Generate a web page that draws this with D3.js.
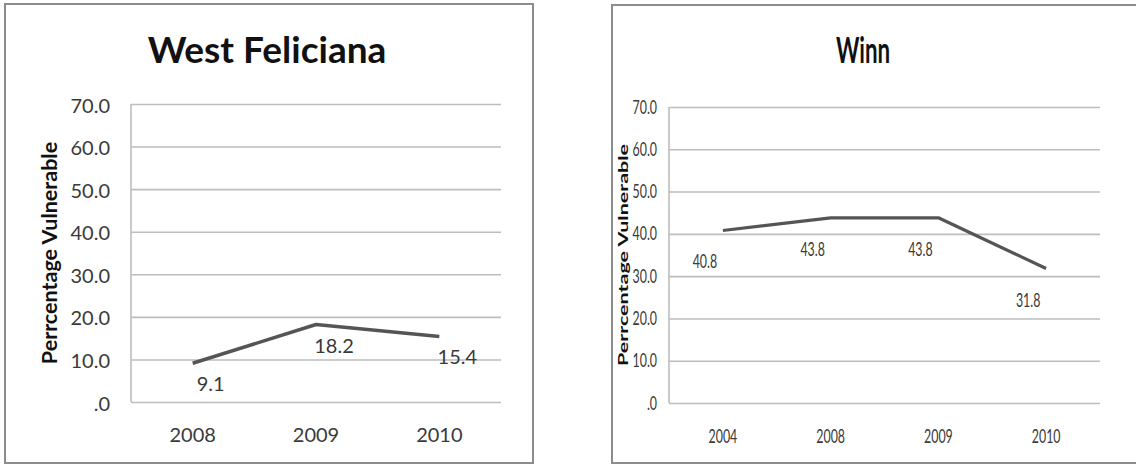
<!DOCTYPE html>
<html>
<head>
<meta charset="utf-8">
<script src="https://cdn.jsdelivr.net/npm/d3@7"></script>
<style>
  html, body { margin: 0; padding: 0; background: #fff; }
  svg { display: block; }
  text { font-family: Lato, "Open Sans", sans-serif; fill: #333; }
</style>
</head>
<body>
<svg id="chart" width="1136" height="465"></svg>
<script>
// ---- data ----
const westTitle = "West Feliciana";
const westYears = ["2008", "2009", "2010"];
const westValues = [9.1, 18.2, 15.4];

const winnTitle = "Winn";
const winnYears = ["2004", "2008", "2009", "2010"];
const winnValues = [40.8, 43.8, 43.8, 31.8];

const yTicks = [0, 10, 20, 30, 40, 50, 60, 70];
const yAxisTitle = "Perrcentage Vulnerable";

const svg = d3.select("#chart");

function drawChart(cfg) {
  const g = svg.append("g");
  const sx = cfg.squeeze; // horizontal glyph compression

  // frame
  g.append("rect")
    .attr("x", cfg.box[0]).attr("y", cfg.box[1])
    .attr("width", cfg.box[2]).attr("height", cfg.box[3])
    .attr("fill", "#fff").attr("stroke", "#8c8c8c").attr("stroke-width", 2);

  const x = d3.scaleBand().domain(cfg.years).range([cfg.left, cfg.right]).padding(0);
  const y = d3.scaleLinear().domain([0, 70]).range([cfg.bottom, cfg.top]);

  // gridlines + y tick labels
  const yAxis = d3.axisLeft(y).tickValues(yTicks)
    .tickSize(-(cfg.right - cfg.left)).tickPadding(0)
    .tickFormat(d => d === 0 ? ".0" : d.toFixed(1));
  const ya = g.append("g").attr("transform", `translate(${cfg.left},0)`).call(yAxis);
  ya.select(".domain").remove();
  ya.selectAll(".tick line").attr("stroke", "#bdbdbd").attr("stroke-width", 1.6);
  ya.selectAll(".tick text")
    .attr("x", null).attr("dy", null)
    .attr("transform", `translate(${-cfg.yLabGap},${cfg.yLabDy}) scale(${sx},1)`)
    .attr("text-anchor", "end")
    .style("font-size", cfg.tickSize + "px").style("fill", "#3a3a3a");

  // vertical axis line
  g.append("line")
    .attr("x1", cfg.left).attr("x2", cfg.left)
    .attr("y1", y(70)).attr("y2", y(0))
    .attr("stroke", "#bdbdbd").attr("stroke-width", 1.6);

  // x axis labels
  const xAxis = d3.axisBottom(x).tickSize(0).tickPadding(0);
  const xa = g.append("g").attr("transform", `translate(0,${cfg.bottom})`).call(xAxis);
  xa.select(".domain").remove();
  xa.selectAll(".tick text")
    .attr("y", null).attr("dy", null)
    .attr("transform", `translate(0,${cfg.xLabDy}) scale(${sx},1)`)
    .style("font-size", cfg.tickSize + "px").style("fill", "#3a3a3a");

  // title
  g.append("text")
    .attr("transform", `translate(${cfg.titleX},${cfg.titleY}) scale(${sx},1)`)
    .attr("text-anchor", "middle")
    .style("font-size", cfg.titleSize + "px").style("font-weight", "bold").style("fill", "#111")
    .text(cfg.title);

  // y axis title
  g.append("text")
    .attr("transform", `translate(${cfg.yTitleX},${(cfg.top + cfg.bottom) / 2}) scale(${sx},1) rotate(-90)`)
    .attr("text-anchor", "middle")
    .style("font-size", cfg.yTitleSize + "px").style("font-weight", "bold").style("fill", "#111")
    .text(yAxisTitle);

  // line
  const pts = cfg.years.map((yr, i) => ({ yr, v: cfg.values[i] }));
  const line = d3.line().x(d => x(d.yr) + x.bandwidth() / 2).y(d => y(d.v));
  g.append("path").datum(pts)
    .attr("d", line).attr("fill", "none")
    .attr("stroke", "#555").attr("stroke-width", cfg.lineW)
    .attr("stroke-linejoin", "round");

  // data labels
  g.selectAll(".dl").data(pts).enter().append("text")
    .attr("class", "dl")
    .attr("transform", d => `translate(${x(d.yr) + x.bandwidth() / 2 + cfg.lblDx},${y(d.v) + cfg.lblDy}) scale(${sx},1)`)
    .attr("text-anchor", "middle")
    .style("font-size", cfg.tickSize + "px").style("fill", "#3a3a3a")
    .text(d => d.v.toFixed(1));
}

drawChart({
  title: westTitle, years: westYears, values: westValues,
  box: [5, 4, 528, 459],
  left: 131, right: 501, top: 104, bottom: 402,
  squeeze: 1, tickSize: 20, titleSize: 37, yTitleSize: 21.5,
  yLabGap: 21, yLabDy: 8, xLabDy: 40,
  titleX: 267, titleY: 63, yTitleX: 57,
  lineW: 3.5, lblDx: 18, lblDy: 28
});

drawChart({
  title: winnTitle, years: winnYears, values: winnValues,
  box: [612, 5, 540, 458],
  left: 669, right: 1100, top: 107, bottom: 403,
  squeeze: 0.62, tickSize: 20, titleSize: 36, yTitleSize: 21.5,
  yLabGap: 12, yLabDy: 6, xLabDy: 40,
  titleX: 863, titleY: 63, yTitleX: 628,
  lineW: 3.2, lblDx: -18, lblDy: 38
});
</script>
</body>
</html>
